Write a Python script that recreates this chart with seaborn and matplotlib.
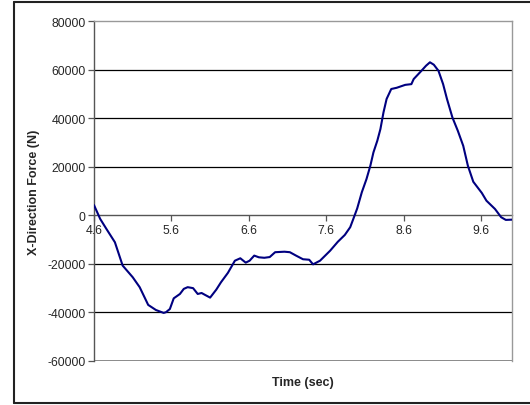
import matplotlib
matplotlib.use("Agg")
import matplotlib.pyplot as plt
import seaborn as sns
import pandas as pd
from matplotlib.lines import Line2D

# data
time_sec = [4.60, 4.68, 4.76, 4.87, 4.97, 5.10, 5.19, 5.30, 5.40, 5.50, 5.53, 5.58,
            5.63, 5.71, 5.76, 5.81, 5.88, 5.94, 5.99, 6.03, 6.10, 6.18, 6.24, 6.33,
            6.42, 6.49, 6.56, 6.61, 6.67, 6.73, 6.80, 6.87, 6.94, 7.06, 7.13, 7.21,
            7.30, 7.38, 7.43, 7.52, 7.65, 7.75, 7.84, 7.91, 7.95, 8.00, 8.06, 8.12,
            8.17, 8.21, 8.26, 8.30, 8.34, 8.38, 8.44, 8.51, 8.62, 8.70, 8.73, 8.83,
            8.89, 8.94, 8.99, 9.05, 9.11, 9.16, 9.23, 9.30, 9.37, 9.43, 9.50, 9.61,
            9.67, 9.78, 9.86, 9.92, 10.0]
force_n = [4200, -1500, -5600, -11100, -20700, -25500, -29600, -36900, -39000, -40200,
           -39900, -38600, -34200, -32400, -30300, -29600, -30000, -32400, -32000,
           -32700, -33900, -30600, -27600, -23700, -18700, -17700, -19500, -18700,
           -16600, -17300, -17500, -17200, -15200, -15000, -15200, -16600, -18100,
           -18300, -20200, -18700, -14600, -10900, -8100, -4900, -1500, 2800, 9500,
           14900, 20400, 25900, 30700, 35500, 42400, 47900, 52000, 52500, 53700,
           54000, 56100, 59500, 61600, 63000, 62000, 59500, 54000, 47900, 40300,
           34800, 28600, 20400, 13800, 9200, 6000, 2600, -800, -1900, -1800]
x_ticks = [4.6, 5.6, 6.6, 7.6, 8.6, 9.6]
y_ticks = [-60000, -40000, -20000, 0, 20000, 40000, 60000, 80000]

df = pd.DataFrame({"Time": time_sec, "Force": force_n})

sns.set_style("white")
plt.rcParams["font.family"] = ["Liberation Sans", "DejaVu Sans"]

fig = plt.figure(figsize=(5.3, 4.06), dpi=100)
fig.patch.set_edgecolor("white")
fig.patch.set_linewidth(0)
ax = fig.add_axes([94 / 530, 1 - 362 / 406, 418 / 530, 340 / 406])

# outer chart frame: left, top, bottom only (right edge is off the image)
x0, y0, y1 = 14 / 530, 1 - 404 / 406, 1 - 3 / 406
for xs, ys in [([x0, x0], [y0, y1]), ([x0, 1.05], [y1, y1]), ([x0, 1.05], [y0, y0])]:
    fig.add_artist(Line2D(xs, ys, transform=fig.transFigure,
                          color="#222222", linewidth=1.5))

# horizontal gridlines
for v in [60000, 40000, 20000, -20000, -40000]:
    ax.axhline(v, color="black", linewidth=0.9, zorder=1)

sns.lineplot(data=df, x="Time", y="Force", ax=ax, color="#000080",
             linewidth=1.5, zorder=3)

ax.set_xlim(4.6, 10.0)
ax.set_ylim(-60000, 80000)
ax.set_xticks(x_ticks)
ax.set_xticklabels([str(t) for t in x_ticks])
ax.set_yticks(y_ticks)
ax.set_yticklabels([str(v) for v in y_ticks])

ax.spines["bottom"].set_position(("data", 0))
ax.spines["bottom"].set_color("#555555")
ax.spines["left"].set_color("#555555")
ax.spines["right"].set_color("#999999")
ax.spines["top"].set_color("#999999")
for s in ax.spines.values():
    s.set_linewidth(1.0)
ax.spines["bottom"].set_zorder(2)

# bottom edge of plot area (the -60000 line)
ax.axhline(-60000, color="#777777", linewidth=1.2, zorder=2)

ax.tick_params(axis="x", direction="out", length=4, width=0.9, color="#555555",
               labelsize=8.8, pad=2, bottom=True)
ax.tick_params(axis="y", direction="out", length=4, width=0.9, color="#555555",
               labelsize=8.8, pad=2, left=True)

ax.set_xlabel("")
ax.set_ylabel("")
fig.text(303 / 530, 1 - 383 / 406, "Time (sec)", ha="center", va="center",
         fontsize=9, fontweight="bold")
fig.text(34 / 530, 1 - 192 / 406, "X-Direction Force (N)", ha="center",
         va="center", rotation=90, fontsize=9, fontweight="bold")

fig.savefig("out.png", dpi=100)
